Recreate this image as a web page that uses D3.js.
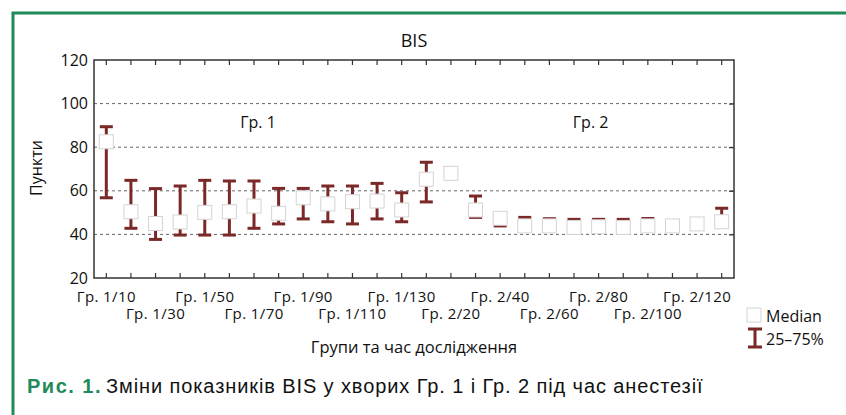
<!DOCTYPE html>
<html>
<head>
<meta charset="utf-8">
<script src="https://cdn.jsdelivr.net/npm/d3@7"></script>
<style>
  body { margin: 0; background: #fff; }
  svg text { font-family: "Open Sans", "Noto Sans", sans-serif; fill: #111; }
</style>
</head>
<body>
<svg width="846" height="415"></svg>
<script>
// categories: group / minute
const categories = [
    "Гр. 1/10", "Гр. 1/20", "Гр. 1/30", "Гр. 1/40", "Гр. 1/50", "Гр. 1/60", "Гр. 1/70",
    "Гр. 1/80", "Гр. 1/90", "Гр. 1/100", "Гр. 1/110", "Гр. 1/120", "Гр. 1/130",
    "Гр. 2/10", "Гр. 2/20", "Гр. 2/30", "Гр. 2/40", "Гр. 2/50", "Гр. 2/60", "Гр. 2/70",
    "Гр. 2/80", "Гр. 2/90", "Гр. 2/100", "Гр. 2/110", "Гр. 2/120", "Гр. 2/130"
];
const median = [82.5, 50.4, 45, 45.7, 50.1, 50.4, 53, 49.7, 56.8, 54, 55, 55.3, 51.2,
    65.3, 68, 51.2, 47.4, 43.9, 43.9, 43.2, 43.5, 43.2, 43.9, 43.9, 44.8, 45.8];
const q75 = [89.4, 64.8, 61, 62.2, 64.8, 64.5, 64.5, 61.1, 61.1, 62.2, 62.2, 63.4, 59.1,
    73.1, 69, 57.6, 48, 47.8, 47.2, 46.9, 46.9, 46.9, 47.3, 45, 46, 52];
const q25 = [56.8, 42.8, 37.7, 39.7, 39.7, 39.7, 42.8, 44.8, 47.1, 45.8, 44.8, 47.1, 45.8,
    54.9, 67, 47.8, 43.9, 43, 43, 42.5, 42.5, 42.5, 43, 43, 43.5, 44.5];
const yTicks = [20, 40, 60, 80, 100, 120];
const gridTicks = [40, 60, 80, 100];
const groupLabels = ["Гр. 1", "Гр. 2"];
const groupAnchors = ["Гр. 1/70", "Гр. 2/80"];

const svg = d3.select("svg");
const pLeft = 94, pRight = 734, pTop = 60, pBottom = 278;
const red = "#7b2828";

let x = d3.scaleBand().domain(categories).range([pLeft, pRight]);
let y = d3.scaleLinear().domain([20, 120]).range([pBottom, pTop]);
let cx = d => x(d) + x.bandwidth() / 2;

// green frame
svg.append("path")
    .attr("d", "M13,415 V13 H846")
    .attr("fill", "none")
    .attr("stroke", "#1f8a5a")
    .attr("stroke-width", 3);

// grid
svg.append("g").selectAll("line")
    .data(gridTicks)
    .enter()
    .append("line")
    .attr("x1", pLeft).attr("x2", pRight)
    .attr("y1", d => y(d)).attr("y2", d => y(d))
    .attr("stroke", "#666")
    .attr("stroke-width", 1)
    .attr("stroke-dasharray", "3,3");

// axes
let xBottom = svg.append("g")
    .attr("transform", "translate(0," + pBottom + ")")
    .call(d3.axisBottom(x).tickSizeInner(-5).tickSizeOuter(0)
        .tickFormat((d, i) => i % 2 === 0 ? d : ""));
xBottom.selectAll("text")
    .attr("y", (d, i) => i % 4 === 0 ? 23.5 : 41)
    .attr("dy", 0)
    .style("font-size", "15px")
    .style("letter-spacing", "0.4px");

svg.append("g")
    .attr("transform", "translate(0," + pTop + ")")
    .call(d3.axisTop(x).tickSizeInner(-5).tickSizeOuter(0).tickFormat(""));

let yLeft = svg.append("g")
    .attr("transform", "translate(" + pLeft + ",0)")
    .call(d3.axisLeft(y).tickValues(yTicks).tickSize(0).tickPadding(6));
yLeft.selectAll("text").style("font-size", "16px");

svg.append("g")
    .attr("transform", "translate(" + pRight + ",0)")
    .call(d3.axisRight(y).tickValues(gridTicks).tickSizeInner(-5).tickSizeOuter(0).tickFormat(""));

svg.selectAll(".domain").remove();
svg.selectAll(".tick line").attr("stroke", "#333").attr("stroke-width", 1.2);

svg.append("rect")
    .attr("x", pLeft).attr("y", pTop)
    .attr("width", pRight - pLeft).attr("height", pBottom - pTop)
    .attr("fill", "none")
    .attr("stroke", "#333")
    .attr("stroke-width", 1.5);

// whiskers 25-75%
let wh = svg.append("g").selectAll("g")
    .data(categories)
    .enter()
    .append("g")
    .attr("stroke", red)
    .attr("stroke-width", 3);
wh.append("line")
    .attr("x1", d => cx(d)).attr("x2", d => cx(d))
    .attr("y1", (d, i) => y(q75[i])).attr("y2", (d, i) => y(q25[i]));
wh.append("line")
    .attr("x1", d => cx(d) - 6.5).attr("x2", d => cx(d) + 6.5)
    .attr("y1", (d, i) => y(q75[i])).attr("y2", (d, i) => y(q75[i]));
wh.append("line")
    .attr("x1", d => cx(d) - 6.5).attr("x2", d => cx(d) + 6.5)
    .attr("y1", (d, i) => y(q25[i])).attr("y2", (d, i) => y(q25[i]));

// median boxes
svg.append("g").selectAll("rect")
    .data(categories)
    .enter()
    .append("rect")
    .attr("x", d => cx(d) - 7)
    .attr("y", (d, i) => y(median[i]) - 7)
    .attr("width", 14).attr("height", 14)
    .attr("fill", "#fff")
    .attr("stroke", "#d4d4d4")
    .attr("stroke-width", 1);

// group labels
svg.append("g").selectAll("text")
    .data(groupLabels)
    .enter()
    .append("text")
    .attr("x", (d, i) => cx(groupAnchors[i]) + (i === 0 ? 4 : -8))
    .attr("y", 128)
    .attr("text-anchor", "middle")
    .style("font-size", "16px")
    .text(d => d);

// titles
svg.append("text")
    .attr("x", 414).attr("y", 47)
    .attr("text-anchor", "middle")
    .style("font-size", "18px")
    .text("BIS");

svg.append("text")
    .attr("x", 414).attr("y", 353)
    .attr("text-anchor", "middle")
    .style("font-size", "16.5px")
    .text("Групи та час дослідження");

svg.append("text")
    .attr("transform", "translate(42,168) rotate(-90)")
    .attr("text-anchor", "middle")
    .style("font-size", "16px")
    .text("Пункти");

// legend
let lg = svg.append("g");
lg.append("rect")
    .attr("x", 747).attr("y", 308).attr("width", 14).attr("height", 14)
    .attr("fill", "#fff").attr("stroke", "#d4d4d4");
lg.append("text").attr("x", 766).attr("y", 322).style("font-size", "16px").text("Median");
lg.append("path")
    .attr("d", "M748,329 H762 M755,329 V347 M748,347 H762")
    .attr("stroke", red).attr("stroke-width", 3).attr("fill", "none");
lg.append("text").attr("x", 766).attr("y", 345).style("font-size", "16px").text("25–75%");

// caption
let cap = svg.append("text")
    .attr("x", 27).attr("y", 393)
    .style("font-family", "'Liberation Sans', Arial, sans-serif")
    .style("font-size", "20px");
cap.append("tspan")
    .style("font-weight", "bold")
    .style("fill", "#1f8a5a")
    .style("letter-spacing", "1.5px")
    .text("Рис. 1.");
cap.append("tspan")
    .attr("dx", 4)
    .style("letter-spacing", "0.9px")
    .text("Зміни показників BIS у хворих Гр. 1 і Гр. 2 під час анестезії");
</script>
</body>
</html>
